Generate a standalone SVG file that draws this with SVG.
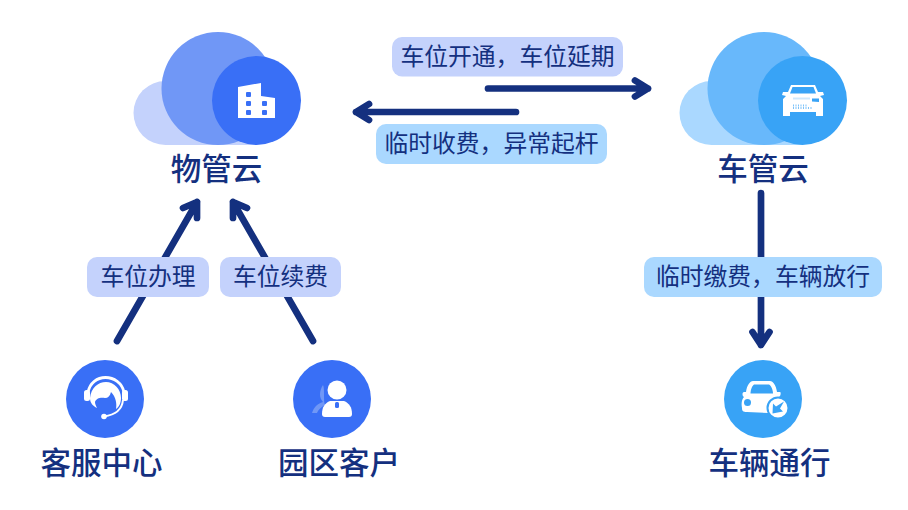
<svg xmlns="http://www.w3.org/2000/svg" width="908" height="510" viewBox="0 0 908 510">
<style>
.t{font-family:"Noto Sans CJK SC","Noto Sans",sans-serif;fill:#14307f}
.n{font-size:30.500px;font-weight:500;text-anchor:middle}
.l{font-size:23.800px;text-anchor:middle}
.c{fill:none;stroke:#14307f;stroke-width:6.700px;stroke-linecap:round;stroke-linejoin:round}
.p1{fill:#c4d2fc}.p2{fill:#aad8ff}
.w{fill:#fff}
</style>
<rect width="908" height="510" fill="#fff"/>
<g id="connectors">
<path class="c" d="M488 88.500H648M635 80.500L648 88.500L635 96.500"/>
<path class="c" d="M516 112H356M369 104L356 112L369 120"/>
<path class="c" d="M117 341L197 202M183 208L197 202L197 218"/>
<path class="c" d="M313 341L233 202M247 208L233 202L233 218"/>
<path class="c" d="M761 193V345M752.500 332L761 345L769.500 332"/>
</g>
<g id="label-1"><rect class="p1" x="392" y="37" width="231" height="39.500" rx="10"/><text class="t l" x="507.500" y="65">车位开通，车位延期</text></g>
<g id="label-2"><rect class="p2" x="376" y="124" width="231" height="40" rx="10"/><text class="t l" x="491.500" y="152">临时收费，异常起杆</text></g>
<g id="label-3"><rect class="p1" x="87" y="257" width="122" height="40" rx="10"/><text class="t l" x="148" y="285">车位办理</text></g>
<g id="label-4"><rect class="p1" x="220" y="257" width="121" height="40" rx="10"/><text class="t l" x="280.500" y="285">车位续费</text></g>
<g id="label-5"><rect class="p2" x="644" y="257" width="238" height="40" rx="10"/><text class="t l" x="763" y="285">临时缴费，车辆放行</text></g>
<g id="wuguanyun">
<path class="p1" d="M165.500 81H257V145H165.500A32 32 0 0 1 165.500 81Z"/>
<circle cx="218" cy="88.500" r="56.500" fill="#7097f6"/>
<circle cx="256.500" cy="100.500" r="44.500" fill="#396ff6"/>
<path class="w" d="M238 87L261 83V96L275 98V118H238Z"/>
<g fill="#396ff6"><rect x="246" y="92" width="5" height="5" rx="1"/><rect x="246" y="101" width="5" height="5" rx="1"/><rect x="246" y="110" width="5" height="5" rx="1"/><rect x="262" y="101" width="5" height="5" rx="1"/><rect x="262" y="110" width="5" height="5" rx="1"/></g>
<text class="t n" x="216.500" y="180">物管云</text>
</g>
<g id="cheguanyun">
<path class="p2" d="M711.500 81H803V145H711.500A32 32 0 0 1 711.500 81Z"/>
<circle cx="764" cy="88.500" r="56.500" fill="#68b8fb"/>
<circle cx="802.500" cy="100.500" r="44.500" fill="#38a3f6"/>
<path class="w" d="M791 85H815L818 92H823L824 95L820 96L823 99V116H816V112H790V116H783V99L786 96L782 95L783 92H788Z"/>
<path fill="#38a3f6" d="M792.500 87H813.500L816 93.500H790Z"/>
<path fill="#38a3f6" d="M812 98.500H819V102L812 101.500Z"/>
<path d="M793 98.500H810" stroke="#cfe8fc" stroke-width="2" fill="none"/>
<path d="M793 105.500H808M793 108H813" stroke="#7cc2f9" stroke-width="2" stroke-dasharray="1 1.500" fill="none"/>
<text class="t n" x="763" y="180">车管云</text>
</g>
<g id="kefu">
<circle cx="105" cy="399" r="39" fill="#396ff6"/>
<path d="M88 392C90 383 97 377.500 105.500 377.500C114 377.500 122 383 124 392" fill="none" stroke="#fff" stroke-width="2.800"/>
<rect x="84" y="390" width="6" height="11" rx="2.500" class="w"/>
<rect x="122" y="390" width="6" height="11" rx="2.500" class="w"/>
<path class="w" d="M90 398C91 388 98 382 106 382C114 382 121 389 121 398C121 403 119 407 116 409C117 404 116 397 111 392C110 396 108 398 105 398C101 397 96 398 95 402C95 404 96 406 97 408C93 406 90 403 90 398Z"/>
<path d="M123 400C122 410 115 415 104 416.500" stroke="#fff" stroke-width="2" fill="none"/>
<circle cx="104" cy="416.500" r="2.800" class="w"/>
<text class="t n" x="101.500" y="474">客服中心</text>
</g>
<g id="kehu">
<circle cx="332" cy="399" r="39" fill="#396ff6"/>
<path fill="#7097f6" d="M323 385C319 391 319 398 323 402C317 404 314 407 312 413H317C318 410 321 407 325 405C323 401 325 389 323 385Z"/>
<circle cx="337" cy="390" r="9.500" class="w"/>
<path class="w" d="M330 401H344C349 403 352 407 352 414C352 416 351 417 349 417H325C323 417 322 416 322 414C322 407 325 403 330 401Z"/>
<rect x="335" y="402" width="4" height="6" rx="1.500" fill="#396ff6"/>
<text class="t n" x="339" y="474">园区客户</text>
</g>
<g id="cheliang">
<circle cx="763" cy="399" r="39" fill="#38a3f6"/>
<path class="w" d="M753 381H770C773 381 776 385 777 392H780C781 392 781 396 779 397C781 399 781 402 781 408L768 413L747 412C743 412 742 411 742 408C741 403 742 399 744 397C742 396 742 392 744 392H746C747 385 750 381 753 381Z"/>
<path fill="#38a3f6" d="M754 384.500H769C771 385 773 390 773 393.500H750.500C750.500 390 752 386 754 384.500Z"/>
<circle cx="747.500" cy="402.500" r="3.500" fill="#38a3f6"/>
<circle cx="778" cy="408" r="10.500" class="w" stroke="#38a3f6" stroke-width="2"/>
<path fill="#38a3f6" d="M784 401.500L780 408.500L783 411.500L772.500 413.500L773 403.500L776 406.500Z"/>
<text class="t n" x="769.500" y="474">车辆通行</text>
</g>
</svg>
